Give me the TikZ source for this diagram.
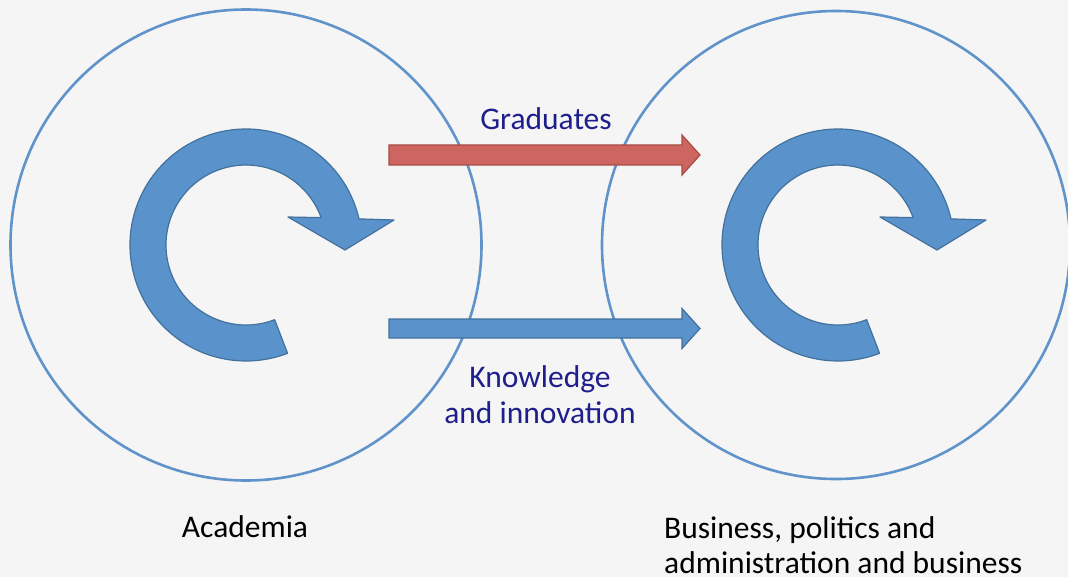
\documentclass[tikz,border=0pt]{standalone}
\usepackage{fontspec}
\setmainfont{Carlito}
\usetikzlibrary{calc}
\definecolor{bg}{HTML}{F5F5F5}
\definecolor{ringc}{HTML}{6193CB}
\definecolor{bluef}{HTML}{5A93CB}
\definecolor{blued}{HTML}{41719C}
\definecolor{redf}{HTML}{CD6660}
\definecolor{redd}{HTML}{A94A44}
\definecolor{navy}{HTML}{1E1E8C}
\begin{document}
\begin{tikzpicture}[x=1pt,y=1pt,
  ring/.style={circle,draw=ringc,line width=2.6pt,minimum size=#1,inner sep=0pt},
  cyc/.style={fill=bluef,draw=blued,line width=1.2pt,line join=round},
  blockred/.style={fill=redf,draw=redd,line width=1.2pt,line join=miter},
  blockblue/.style={fill=bluef,draw=blued,line width=1.2pt,line join=miter},
  lbl/.style={font=\fontsize{31.5}{36}\selectfont,text=navy,align=center,inner sep=0pt},
  captxt/.style={font=\fontsize{31.5}{35}\selectfont,text=black,align=left,inner sep=0pt}]
\fill[bg] (0,0) rectangle (1068,-577);
\useasboundingbox (0,0) rectangle (1068,-577);
% rings
\node[ring=471pt] (acad) at (246,-245) {};
\node[ring=468pt] (bus) at (836,-245) {};
% circular arrows
\foreach \cx/\nm in {246/ca, 838/cb}{
  \coordinate (\nm) at (\cx,-245);
  \draw[cyc,shift={(\nm)}] (13:116) arc[start angle=13,end angle=291,radius=116]
     -- (291:80) arc[start angle=291,end angle=20,radius=80]
     -- (42,28) -- (99,-5) -- (148,25) -- cycle;
}
% straight block arrows
\coordinate (g0) at (389,-155);
\coordinate (g1) at (700,-155);
\draw[blockred] ($(g0)+(0,10)$) -- ($(g1)+(-18,10)$) -- ($(g1)+(-18,20)$) -- (g1)
   -- ($(g1)+(-18,-20)$) -- ($(g1)+(-18,-10)$) -- ($(g0)+(0,-10)$) -- cycle;
\coordinate (k0) at (389,-328.5);
\coordinate (k1) at (700,-328.5);
\draw[blockblue] ($(k0)+(0,9.5)$) -- ($(k1)+(-18,9.5)$) -- ($(k1)+(-18,20)$) -- (k1)
   -- ($(k1)+(-18,-20)$) -- ($(k1)+(-18,-9.5)$) -- ($(k0)+(0,-9.5)$) -- cycle;
% labels
\node[lbl,anchor=base] (grad) at (546,-130) {Graduates};
\node[lbl,anchor=base] (know) at (540,-423) {Knowledge\\and innovation};
\node[captxt,anchor=base] (acadl) at (245,-537) {Academia};
\node[captxt,anchor=base west] (busl) at (664,-573) {Business, politics and\\administration and business};
\end{tikzpicture}
\end{document}
